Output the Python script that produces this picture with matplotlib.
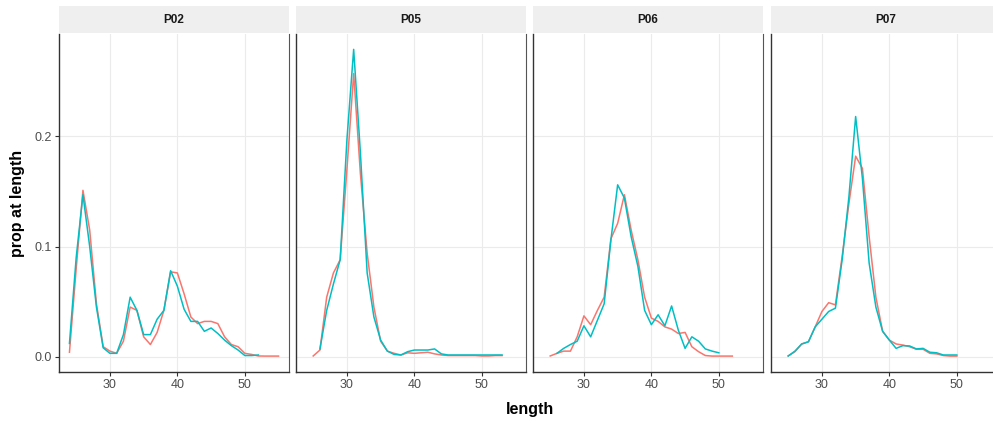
import numpy as np
import matplotlib
matplotlib.use('Agg')
import matplotlib.pyplot as plt

plt.rcParams['font.family'] = ['Liberation Sans', 'DejaVu Sans']

#--------------------------------------
# prop at length (1 cm bins)
#--------------------------------------
panels = ['P02', 'P05', 'P06', 'P07']

# first series (red)
p02_a_start = 24
p02_a = [0.004, 0.08, 0.151, 0.115, 0.048, 0.009, 0.005, 0.003, 0.014, 0.045,
         0.042, 0.018, 0.011, 0.022, 0.042, 0.077, 0.076, 0.057, 0.036, 0.030,
         0.032, 0.032, 0.030, 0.018, 0.011, 0.009, 0.003, 0.002, 0.0006, 0.0005,
         0.0005, 0.0005]
p05_a_start = 25
p05_a = [0.0006, 0.006, 0.054, 0.076, 0.088, 0.17, 0.257, 0.166, 0.094, 0.045,
         0.014, 0.005, 0.003, 0.0015, 0.0035, 0.003, 0.0035, 0.004, 0.0025, 0.0015,
         0.001, 0.001, 0.001, 0.001, 0.001, 0.0006, 0.0006, 0.001, 0.001]
p06_a_start = 25
p06_a = [0.0006, 0.003, 0.005, 0.005, 0.018, 0.037, 0.029, 0.042, 0.054, 0.107,
         0.121, 0.147, 0.115, 0.088, 0.054, 0.035, 0.032, 0.027, 0.025, 0.021,
         0.022, 0.009, 0.0045, 0.001, 0.0005, 0.0005, 0.0005, 0.0005]
p07_a_start = 25
p07_a = [0.0006, 0.0045, 0.0115, 0.0135, 0.027, 0.041, 0.049, 0.047, 0.091, 0.139,
         0.182, 0.171, 0.109, 0.054, 0.023, 0.015, 0.0115, 0.0105, 0.009, 0.0067,
         0.0067, 0.003, 0.0025, 0.001, 0.0005, 0.0005]

# second series (cyan)
p02_b_start = 24
p02_b = [0.012, 0.09, 0.147, 0.10, 0.045, 0.008, 0.003, 0.003, 0.020, 0.054,
         0.042, 0.020, 0.020, 0.034, 0.042, 0.078, 0.064, 0.043, 0.032, 0.032,
         0.023, 0.026, 0.021, 0.015, 0.010, 0.006, 0.001, 0.001, 0.0015]
p05_b_start = 26
p05_b = [0.007, 0.042, 0.066, 0.088, 0.197, 0.279, 0.185, 0.076, 0.036, 0.015,
         0.005, 0.002, 0.0015, 0.0045, 0.006, 0.006, 0.006, 0.007, 0.0025, 0.0015,
         0.0015, 0.0015, 0.0015, 0.0015, 0.0015, 0.0015, 0.0015, 0.0015]
p06_b_start = 26
p06_b = [0.003, 0.0075, 0.011, 0.014, 0.028, 0.018, 0.033, 0.048, 0.106, 0.156,
         0.144, 0.109, 0.082, 0.042, 0.029, 0.038, 0.028, 0.046, 0.024, 0.0075,
         0.018, 0.014, 0.007, 0.005, 0.0035]
p07_b_start = 25
p07_b = [0.0006, 0.005, 0.0115, 0.0135, 0.027, 0.034, 0.041, 0.044, 0.088, 0.145,
         0.218, 0.162, 0.085, 0.045, 0.023, 0.015, 0.0075, 0.010, 0.0097, 0.007,
         0.0075, 0.004, 0.0035, 0.0015, 0.0015, 0.0015]

series_a = [(p02_a_start, p02_a), (p05_a_start, p05_a), (p06_a_start, p06_a), (p07_a_start, p07_a)]
series_b = [(p02_b_start, p02_b), (p05_b_start, p05_b), (p06_b_start, p06_b), (p07_b_start, p07_b)]

red = '#F8766D'
cyan = '#00BFC4'

#--------------------------------------
# Layout in pixels (the last panel runs past the right edge)
#--------------------------------------
W, H = 993., 423.
lefts = [59, 296, 533, 771]
pw = 230
ptop, pbot = 34, 372
stop, sbot = 6, 33.5

fig = plt.figure(figsize=(W / 100, H / 100), dpi=100)

# shared limits like ggplot (5% expansion)
xmin, xmax = 24, 55
ymin, ymax = 0, 0.279
xr = xmax - xmin
yr = ymax - ymin

for i, name in enumerate(panels):
    ax = fig.add_axes([lefts[i] / W, (H - pbot) / H, pw / W, (pbot - ptop) / H])
    ax.grid(True, color='#EBEBEB', lw=0.8)
    ax.set_axisbelow(True)

    s, v = series_a[i]
    ax.plot(np.arange(s, s + len(v)), v, color=red, lw=1.1)
    s, v = series_b[i]
    ax.plot(np.arange(s, s + len(v)), v, color=cyan, lw=1.1)

    ax.set_xlim(xmin - 0.05 * xr, xmax + 0.05 * xr)
    ax.set_ylim(ymin - 0.05 * yr, ymax + 0.05 * yr)
    ax.set_xticks([30, 40, 50])
    ax.set_yticks([0.0, 0.1, 0.2])
    ax.tick_params(colors='#333333', labelcolor='#4D4D4D', labelsize=9,
                   length=3, width=0.8, pad=2)
    ax.spines['top'].set_visible(False)
    for sp in ['left', 'bottom']:
        ax.spines[sp].set_color('#333333')
        ax.spines[sp].set_linewidth(1.0)
    ax.spines['right'].set_color('#555555')
    ax.spines['right'].set_linewidth(0.8)
    if i == 0:
        ax.set_yticklabels(['0.0', '0.1', '0.2'])
    else:
        ax.tick_params(axis='y', left=False, labelleft=False)

    # strip
    sax = fig.add_axes([lefts[i] / W, (H - sbot) / H, pw / W, (sbot - stop) / H])
    sax.set_facecolor('#EFEFEF')
    sax.set_xticks([])
    sax.set_yticks([])
    for sp in sax.spines.values():
        sp.set_visible(False)
    sax.text(0.5, 0.5, name, ha='center', va='center', fontsize=8.5,
             fontweight='bold', color='#1A1A1A', transform=sax.transAxes)

fig.text(530 / W, 1 - 409 / H, 'length', ha='center', va='center',
         fontsize=11.5, fontweight='bold')
fig.text(18 / W, 1 - 203 / H, 'prop at length', ha='center', va='center',
         rotation=90, fontsize=11.5, fontweight='bold')

plt.savefig('out.png', dpi=100)
